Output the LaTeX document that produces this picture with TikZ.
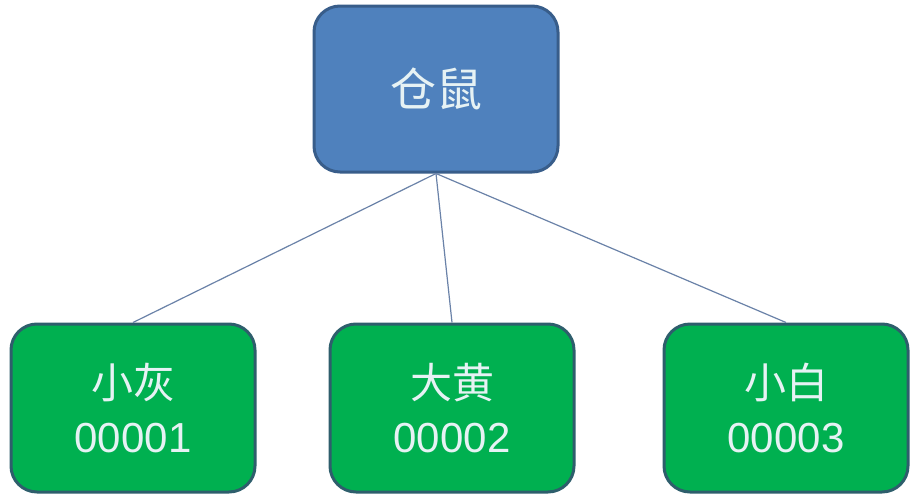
\documentclass[tikz,border=0pt]{standalone}
\usepackage{fontspec}
\setmainfont{Noto Sans CJK SC}
\newfontfamily\digitfont{Liberation Sans}
\definecolor{bossblue}{HTML}{4F81BD}
\definecolor{bossedge}{HTML}{385D8A}
\definecolor{petgreen}{HTML}{00B050}
\definecolor{petedge}{HTML}{2E5E6C}
\definecolor{linkblue}{HTML}{6A82A8}
\definecolor{lighttext}{HTML}{E6F2F4}
\begin{document}
\begin{tikzpicture}[x=1pt,y=-1pt,
  box/.style={rectangle, rounded corners=26pt, line width=3pt, minimum width=244pt,
    align=center, text=lighttext, font=\fontsize{42}{54}\selectfont},
  boss/.style={box, fill=bossblue, draw=bossedge, minimum height=166pt,
    font=\fontsize{46}{54}\selectfont},
  pet/.style={box, fill=petgreen, draw=petedge, minimum height=168pt},
  link/.style={draw=linkblue, line width=1.2pt}]
\useasboundingbox [fill=white] (0,0) rectangle (913,498);
% the keeper and the three hamsters
\node [boss] (cangshu) at (436,89) {仓鼠};
\node [pet] (xiaohui) at (133,408) {小灰\\{\digitfont 00001}};
\node [pet] (dahuang) at (452,408) {大黄\\{\digitfont 00002}};
\node [pet] (xiaobai) at (786,408) {小白\\{\digitfont 00003}};
% tree links
\draw [link] (cangshu.south) -- (xiaohui.north);
\draw [link] (cangshu.south) -- (dahuang.north);
\draw [link] (cangshu.south) -- (xiaobai.north);
\end{tikzpicture}
\end{document}
